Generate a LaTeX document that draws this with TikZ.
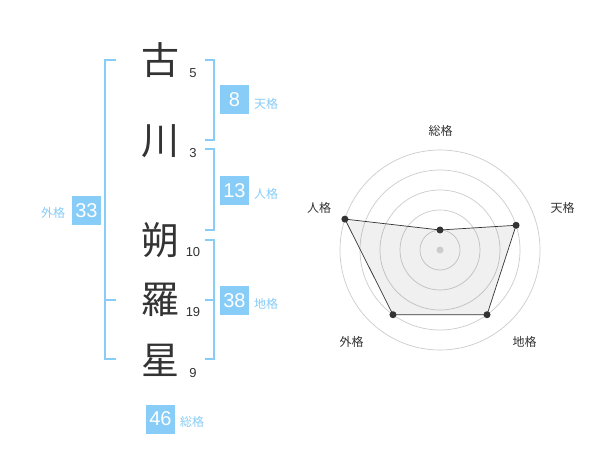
\documentclass[tikz,border=0pt]{standalone}
\usepackage{fontspec}
\usetikzlibrary{calc}
\setmainfont{Liberation Sans}
\newfontfamily\jp{Noto Sans CJK JP}
\definecolor{sky}{HTML}{88CCF8}
\definecolor{ink}{HTML}{333333}
\definecolor{ringc}{HTML}{CCCCCC}
\begin{document}
\begin{tikzpicture}[x=1pt,y=-1pt,
  kanji/.style={font=\jp\fontsize{38}{38}\selectfont, text=ink, inner sep=0pt},
  strokes/.style={font=\fontsize{13}{13}\selectfont, text=ink, inner sep=0pt},
  valbox/.style={fill=sky, text=white, minimum width=29pt, minimum height=29pt, inner sep=0pt, font=\fontsize{20}{20}\selectfont},
  kaku/.style={text=sky, font=\jp\fontsize{12}{12}\selectfont, inner sep=0pt},
  bracket/.style={draw=sky, line width=2pt},
  ring/.style={draw=ringc, line width=0.7pt},
  axlabel/.style={text=ink, font=\jp\fontsize{12}{12}\selectfont, inner sep=0pt},
  dot/.style={circle, fill=ink, inner sep=0pt, minimum size=7pt},
  area/.style={fill=black, fill opacity=0.06, draw=ink, draw opacity=1, line width=0.7pt}]
\useasboundingbox (0,0) rectangle (600,470);
\fill[white] (0,0) rectangle (600,470);

% name characters
\node[kanji] (k1) at (160,60) {古};
\node[kanji] (k2) at (160,141) {川};
\node[kanji] (k3) at (160,240) {朔};
\node[kanji] (k4) at (160,300) {羅};
\node[kanji] (k5) at (160,360) {星};
% stroke counts
\node[strokes] (n1) at (193,73) {5};
\node[strokes] (n2) at (193,153) {3};
\node[strokes] (n3) at (193,252) {10};
\node[strokes] (n4) at (193,312) {19};
\node[strokes] (n5) at (193,373) {9};

% brackets
\draw[bracket] (116,60) -- (105,60) -- (105,359) -- (116,359);
\draw[bracket] (105,300) -- (116,300);
\draw[bracket] (205,60) -- (214,60) -- (214,140) -- (205,140);
\draw[bracket] (205,149) -- (214,149) -- (214,230) -- (205,230);
\draw[bracket] (205,240) -- (214,240) -- (214,359) -- (205,359);
\draw[bracket] (205,300) -- (214,300);

% values
\node[valbox] (ten) at (234.5,99.5) {8};
\node[kaku] (tenl) at (266,104) {天格};
\node[valbox] (jin) at (234.5,190.5) {13};
\node[kaku] (jinl) at (266,194) {人格};
\node[valbox] (chi) at (234.5,300.5) {38};
\node[kaku] (chil) at (266,304) {地格};
\node[valbox] (gai) at (86.5,210.5) {33};
\node[kaku] (gail) at (53,213) {外格};
\node[valbox] (sou) at (160.5,419) {46};
\node[kaku] (soul) at (192,422) {総格};

% radar chart
\coordinate (c) at (440,250);
\foreach \r in {20,40,60,80,100} \draw[ring] (c) circle (\r);
\draw[area] ($(c)+(-90:20)$) -- ($(c)+(-18:80)$) -- ($(c)+(54:80)$) -- ($(c)+(126:80)$) -- ($(c)+(-162:100)$) -- cycle;
\fill[ringc] (c) circle (3.5);
\node[dot] (p1) at ($(c)+(-90:20)$) {};
\node[dot] (p2) at ($(c)+(-18:80)$) {};
\node[dot] (p3) at ($(c)+(54:80)$) {};
\node[dot] (p4) at ($(c)+(126:80)$) {};
\node[dot] (p5) at ($(c)+(-162:100)$) {};
\node[axlabel] (a1) at (440.5,130.5) {総格};
\node[axlabel] (a2) at (562.5,208) {天格};
\node[axlabel] (a3) at (524.5,342) {地格};
\node[axlabel] (a4) at (351.5,342) {外格};
\node[axlabel] (a5) at (319,208) {人格};
\end{tikzpicture}
\end{document}
